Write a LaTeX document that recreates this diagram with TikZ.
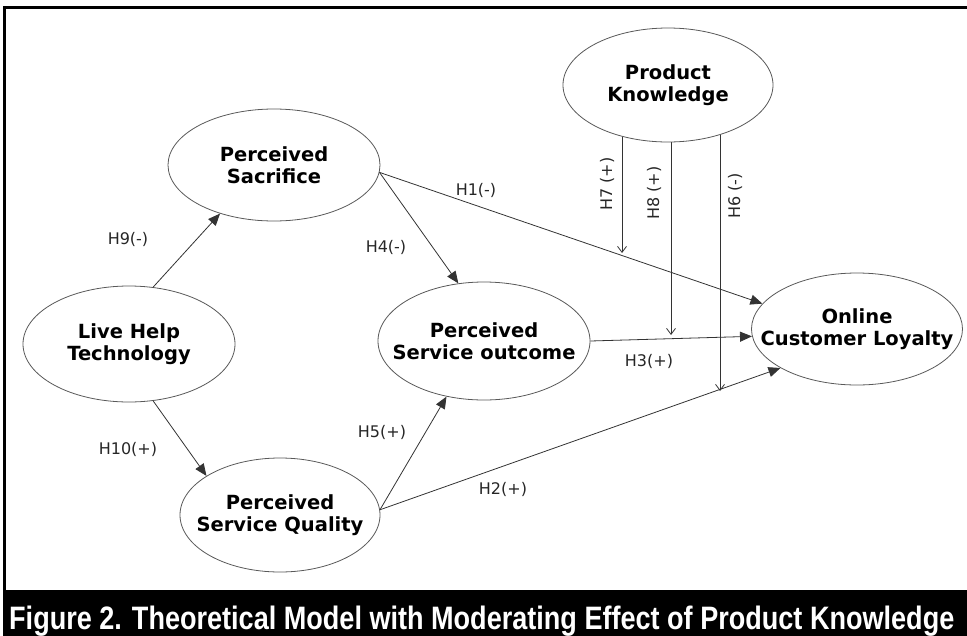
\documentclass[tikz,border=0pt]{standalone}
\usepackage{fontspec}
\usepackage{graphicx}
\setmainfont{DejaVu Sans}
\newfontfamily\capfont{Liberation Sans}
\usetikzlibrary{shapes.geometric,arrows.meta,backgrounds}

\begin{document}
\begin{tikzpicture}[x=1pt,y=-1pt,
  construct/.style={ellipse, draw=black!65, line width=0.8pt, fill=white, inner sep=0pt},
  ctext/.style={align=center, inner sep=0pt, font=\fontsize{19.5}{22}\selectfont\bfseries},
  causal/.style={draw=black!80, line width=0.8pt, -{Triangle[length=12pt,width=10pt]}},
  modarrow/.style={draw=black!80, line width=0.8pt, -{Straight Barb[length=6pt,width=9pt]}},
  hyp/.style={font=\fontsize{16}{18}\selectfont, text=black!85, inner sep=0pt}]

\clip (0,0) rectangle (967,635);

% frame and caption band
\draw[line width=3pt] (4,600) -- (4,7) -- (975,7);
\fill[black] (2.5,590) rectangle (975,640);
\node[anchor=base west, inner sep=0pt, text=white, font=\capfont\bfseries] (caption) at (9,629.5)
  {\resizebox{945pt}{23.5pt}{Figure 2. Theoretical Model with Moderating Effect of Product Knowledge}};

% constructs
\node[construct, minimum width=210pt, minimum height=114pt,
  label={[ctext]center:Product\\Knowledge}] (PK) at (668,85) {};
\node[construct, minimum width=212pt, minimum height=112pt,
  label={[ctext]center:Perceived\\Sacrifice}] (PS) at (274,165) {};
\node[construct, minimum width=212pt, minimum height=116pt,
  label={[ctext]center:Live Help\\Technology}] (LHT) at (129,344) {};
\node[construct, minimum width=212pt, minimum height=118pt,
  label={[ctext]center:Perceived\\Service outcome}] (PSO) at (484,341) {};
\node[construct, minimum width=200pt, minimum height=114pt,
  label={[ctext]center:Perceived\\Service Quality}] (PSQ) at (280,515) {};
\node[construct, minimum width=211pt, minimum height=112pt,
  label={[ctext]center:Online\\Customer Loyalty}] (OCL) at (857,329) {};

% causal paths
\draw[causal] (LHT.67)  -- (PS.222);
\draw[causal] (LHT.293) -- (PSQ.152);
\draw[causal] (PS.356)  -- (PSO.114);
\draw[causal] (PS.356)  -- (OCL.165);
\draw[causal] (PSO.0)   -- (OCL.184);
\draw[causal] (PSQ.3)   -- (PSO.236);
\draw[causal] (PSQ.3)   -- (OCL.207);

% moderating arrows
\coordinate (m7) at (622,253);
\coordinate (m8) at (671,335);
\coordinate (m6) at (720,391);
\begin{scope}[on background layer]
\draw[modarrow] (m7 |- PK.center) -- (m7);
\draw[modarrow] (m8 |- PK.center) -- (m8);
\draw[modarrow] (m6 |- PK.center) -- (m6);
\end{scope}

% hypothesis labels
\node[hyp] (h9)  at (128,239) {H9(-)};
\node[hyp] (h10) at (128,449) {H10(+)};
\node[hyp] (h4)  at (386,247) {H4(-)};
\node[hyp] (h1)  at (476,190) {H1(-)};
\node[hyp] (h3)  at (649,361) {H3(+)};
\node[hyp] (h5)  at (382,432) {H5(+)};
\node[hyp] (h2)  at (503,489) {H2(+)};
\node[hyp, rotate=90] (h7) at (607,184) {H7 (+)};
\node[hyp, rotate=90] (h8) at (654,193) {H8 (+)};
\node[hyp, rotate=90] (h6) at (735,196) {H6 (-)};
\end{tikzpicture}
\end{document}
